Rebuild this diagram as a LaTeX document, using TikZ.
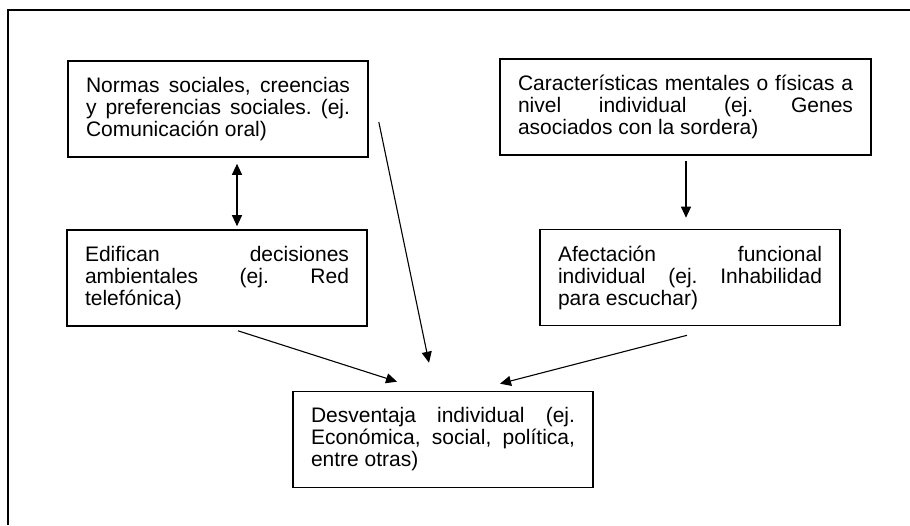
\documentclass[tikz,border=0pt]{standalone}
\usepackage{fontspec}
\setmainfont{Liberation Sans}
\usetikzlibrary{arrows.meta,calc}
\hyphenpenalty=10000
\exhyphenpenalty=10000

\begin{document}
\begin{tikzpicture}[x=1pt, y=-1pt,
        caja/.style={draw, line width=1.6pt, text width=264pt, minimum height=96pt, inner xsep=18pt, inner ysep=0pt, align=justify, font=\fontsize{21}{22}\selectfont\frenchspacing},
        flecha/.style={line width=1.1pt, -{Triangle[length=11pt,width=10pt]}}]
        \useasboundingbox (0,0) rectangle (910,525);
        % Frame
        \draw[line width=1.8pt] (8,525) -- (8,10) -- (910,10);
        % Define the nodes
        \node[caja] (normas) at (218,109) {Normas sociales, creencias\linebreak y preferencias sociales. (ej.\linebreak Comunicación oral)};
        \node[caja] (edifican) at (217,278) {Edifican decisiones\linebreak ambientales (ej. Red\linebreak telefónica)};
        \node[caja, text width=335pt] (caract) at (685.5,107) {Características mentales o físicas a\linebreak nivel individual (ej. Genes\linebreak asociados con la sordera)};
        \node[caja] (afect) at (690,277.5) {Afectación funcional\linebreak individual (ej. Inhabilidad\linebreak para escuchar)};
        \node[caja] (desv) at (443,439.5) {Desventaja individual (ej.\linebreak Económica, social, política,\linebreak entre otras)};

        % Arrows
        \draw[flecha, {Triangle[length=11pt,width=10pt]}-{Triangle[length=11pt,width=10pt]}] ($(normas.south)+(19,6)$) -- ($(edifican.north)+(20,-3)$);
        \draw[flecha] ($(caract.south)+(0.5,5)$) -- ($(afect.north)+(-4,-11)$);
        \draw[flecha] ($(normas.east)+(10,13)$) -- ($(desv.north)+(-14,-28)$);
        \draw[flecha] ($(edifican.south)+(21,4)$) -- ($(desv.north)+(-46,-9)$);
        \draw[flecha] ($(afect.south)+(-3,9)$) -- ($(desv.north)+(57,-7)$);
\end{tikzpicture}
\end{document}
